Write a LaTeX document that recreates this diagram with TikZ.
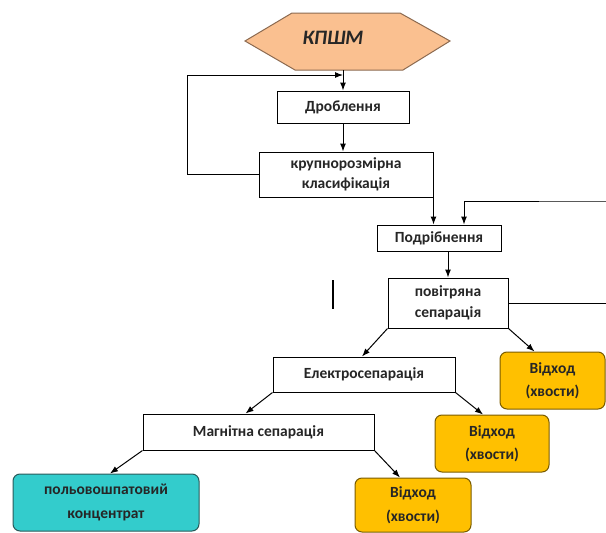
\documentclass[tikz,border=0pt]{standalone}
\usepackage{fontspec}
\setmainfont{Carlito}
\usetikzlibrary{arrows.meta}

\definecolor{hexfill}{HTML}{FAC090}
\definecolor{hexline}{HTML}{8C6A50}
\definecolor{goldfill}{HTML}{FFC000}
\definecolor{goldline}{HTML}{7A5C00}
\definecolor{tealfill}{HTML}{33CCCC}
\definecolor{tealline}{HTML}{2A5A5A}

\newcommand*{\pw}{606}
\newcommand*{\ph}{533}

\begin{document}
\begin{tikzpicture}
[
	x=1pt, y=-1pt,
	every node/.style={font=\fontsize{15.5}{18.5}\selectfont\bfseries, align=center, inner sep=0pt},
	procbox/.style={draw, line width=1pt, fill=white, text=black!85},
	wastebox/.style={draw=goldline, line width=1pt, fill=goldfill, rounded corners=7pt, text=black!85},
	prodbox/.style={draw=tealline, line width=1pt, fill=tealfill, rounded corners=7pt, text=black!85},
	flow/.style={-{Latex[length=8pt,width=6pt]}, line width=1pt},
]

	\useasboundingbox (0,0) rectangle (\pw,\ph);

	% start
	\draw[draw=hexline, fill=hexfill, line width=1pt]
		(245,41) -- (292,13) -- (400,13) -- (450,41) -- (403,70) -- (295,70) -- cycle;
	\node[text=black!85] (kpshm) at (333,38) {\fontsize{20.5}{24}\selectfont\bfseries\itshape КПШМ};
	\coordinate (hexbot) at (343,70);

	% crushing loop
	\node[procbox, minimum width=132, minimum height=32] (drob) at (343,107) {Дроблення};
	\node[procbox, minimum width=174, minimum height=45] (klas) at (346,174.5) {крупнорозмірна\\[2pt]класифікація};
	\coordinate (join) at (343,75);

	% grinding and air separation
	\node[procbox, minimum width=124, minimum height=26] (podr) at (439,238) {Подрібнення};
	\node[procbox, minimum width=120, minimum height=50] (povit) at (448,303) {повітряна\\[3pt]сепарація};

	% separations
	\node[procbox, minimum width=182, minimum height=35] (elek) at (364,374.5) {Електросепарація};
	\node[procbox, minimum width=231, minimum height=36] (magn) at (258.5,432) {Магнітна сепарація};

	% outputs
	\node[wastebox, minimum width=105, minimum height=57] (vid1) at (552.5,380.5) {Відход\\[5pt](хвости)};
	\node[wastebox, minimum width=114, minimum height=57] (vid2) at (492,443.5) {Відход\\[5pt](хвости)};
	\node[wastebox, minimum width=116, minimum height=54] (vid3) at (413,505) {Відход\\[5pt](хвости)};
	\node[prodbox, minimum width=186, minimum height=57] (konc) at (106,502.5) {польовошпатовий\\[5pt]концентрат};

	% connectors
	\draw[flow] (hexbot) -- (drob.north -| hexbot);
	\draw[flow] (drob.south -| hexbot) -- (klas.north -| hexbot);
	\draw[flow] (klas.west) -- (187,174.5) |- (join);
	\draw[flow] (klas.south east) -- (klas.south east |- podr.north);
	\draw[flow] (povit.east) -- ++(104,0) |- (612,201) -| ([xshift=25pt]podr.north);
	\draw[flow] (podr.south -| povit.north) -- (povit.north);
	\draw[flow] (povit.south west) -- ([xshift=-2pt]elek.north);
	\draw[flow] (povit.south east) -- ([xshift=-18pt]vid1.north);
	\draw[flow] (elek.south east) -- ([xshift=-9pt]vid2.north);
	\draw[flow] (elek.south west) -- ([xshift=-13pt]magn.north);
	\draw[flow] (magn.south east) -- ([xshift=-13pt]vid3.north);
	\draw[flow] (magn.south west) -- ([xshift=4pt]konc.north);

	% stray mark
	\draw[line width=1.6pt] (333,280) -- (333,309);

\end{tikzpicture}
\end{document}
